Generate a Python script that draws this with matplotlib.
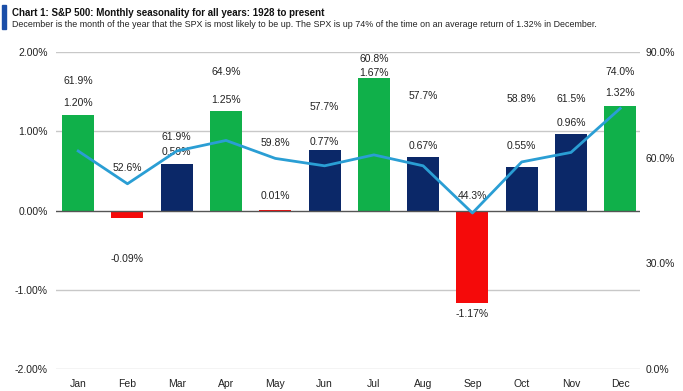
import matplotlib.pyplot as plt
from matplotlib.ticker import FuncFormatter
from matplotlib.patches import Rectangle

months = ["Jan", "Feb", "Mar", "Apr", "May", "Jun", "Jul", "Aug", "Sep", "Oct", "Nov", "Dec"]
avg_return = [1.20, -0.09, 0.59, 1.25, 0.01, 0.77, 1.67, 0.67, -1.17, 0.55, 0.96, 1.32]
pct_up = [61.9, 52.6, 61.9, 64.9, 59.8, 57.7, 60.8, 57.7, 44.3, 58.8, 61.5, 74.0]

# bar colours: green = best, red = worst, navy = the rest
GREEN, NAVY, RED = "#10b04a", "#0b2868", "#f50a0a"
bar_colors = [GREEN, RED, NAVY, GREEN, RED, NAVY, GREEN, NAVY, RED, NAVY, NAVY, GREEN]

# where the labels sit (left-axis units), hand placed like the original
up_label_y = [1.63, 0.54, 0.93, 1.75, 0.85, 1.31, 1.91, 1.44, 0.18, 1.41, 1.41, 1.75]
ret_label_y = [1.36, -0.61, 0.74, 1.39, 0.18, 0.87, 1.74, 0.81, -1.31, 0.82, 1.11, 1.48]

plt.rcParams["font.family"] = ["Liberation Sans", "DejaVu Sans"]

fig = plt.figure(figsize=(6.83, 3.91), dpi=100)
ax = fig.add_axes([0.082, 0.056, 0.855, 0.811])
ax2 = ax.twinx()

x = list(range(len(months)))
ax.bar(x, avg_return, width=0.65, color=bar_colors, zorder=2)
ax.set_ylim(-2, 2)
ax.set_xlim(-0.45, 11.4)
ax.set_yticks([-2, -1, 0, 1, 2])
ax.yaxis.set_major_formatter(FuncFormatter(lambda v, p: f"{v:.2f}%"))
for v in [-2, -1, 1, 2]:
    ax.axhline(v, color="#c8c8c8", lw=1, zorder=1)
ax.axhline(0, color="#555555", lw=1, zorder=3)
ax.set_xticks(x)
ax.set_xticklabels(months)
ax.tick_params(length=0, labelsize=7.5, colors="#222222", pad=6)
ax.tick_params(axis="x", pad=7)

ax2.plot(x, pct_up, color="#2a9ed4", lw=2, zorder=4)
ax2.set_ylim(0, 90)
ax2.set_yticks([0, 30, 60, 90])
ax2.yaxis.set_major_formatter(FuncFormatter(lambda v, p: f"{v:.1f}%"))
ax2.tick_params(length=0, labelsize=7.5, colors="#222222", pad=4)

for a in (ax, ax2):
    for s in a.spines.values():
        s.set_visible(False)

for i in x:
    ax.text(i, up_label_y[i], f"{pct_up[i]:.1f}%", ha="center", va="center",
            fontsize=7.5, color="#222222", zorder=5)
    ax.text(i, ret_label_y[i], f"{avg_return[i]:.2f}%", ha="center", va="center",
            fontsize=7.5, color="#222222", zorder=5)

fig.patches.append(Rectangle((0.003, 0.925), 0.006, 0.063, transform=fig.transFigure,
                             color="#1a4ea8", zorder=5))
fig.text(0.017, 0.966, "Chart 1: S&P 500: Monthly seasonality for all years: 1928 to present",
         fontsize=7, fontweight="bold", color="#111111", va="center")
fig.text(0.017, 0.938, "December is the month of the year that the SPX is most likely to be up. "
         "The SPX is up 74% of the time on an average return of 1.32% in December.",
         fontsize=6.4, color="#222222", va="center")

fig.savefig("out.png", dpi=100)
